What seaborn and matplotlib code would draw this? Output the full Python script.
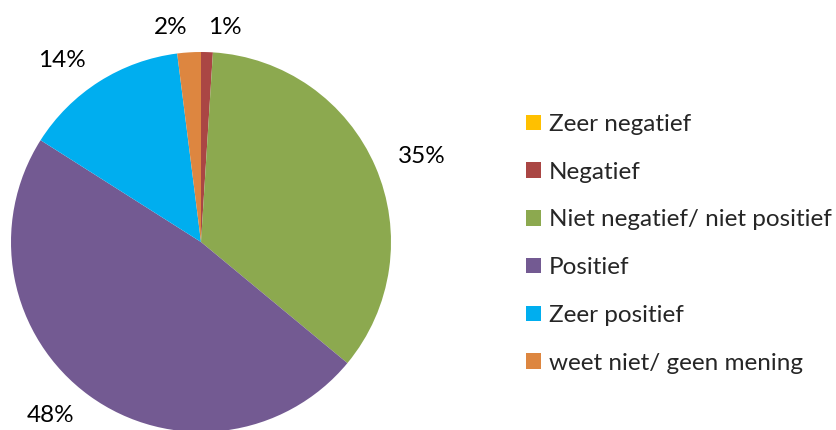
import matplotlib
matplotlib.use("Agg")
import matplotlib.pyplot as plt
import seaborn as sns

categories = ["Zeer negatief", "Negatief", "Niet negatief/ niet positief",
              "Positief", "Zeer positief", "weet niet/ geen mening"]
values = [0, 1, 35, 48, 14, 2]
colors = ["#FFC000", "#AA4644", "#8CA94F", "#735A92", "#00AEEF", "#DD8640"]

sns.set_theme(style="white")
plt.rcParams["font.family"] = ["Lato", "DejaVu Sans"]

W, H = 837, 430
FS = 17.5
fig = plt.figure(figsize=(W / 100, H / 100), dpi=100)
# pie axes: x 11..391 px, y(top) 52..432 px
ax = fig.add_axes([11 / W, (H - 432) / H, 380 / W, 380 / H])
labels = [f"{v}%" if v > 0 else "" for v in values]
wedges, texts = ax.pie(values, labels=labels, colors=colors, startangle=90,
                       counterclock=False, labeldistance=1.13,
                       wedgeprops=dict(linewidth=0),
                       textprops=dict(fontsize=FS, color="#000000"))
ax.set_xlim(-1, 1)
ax.set_ylim(-1, 1)
ax.axis("off")

fig.legend(wedges, categories, loc="upper left", bbox_to_anchor=(526 / W, 1 - 114 / H),
           frameon=False, fontsize=FS, handlelength=0.6, handleheight=0.6,
           handletextpad=0.35, labelspacing=1.1, borderaxespad=0, borderpad=0)

fig.savefig("out.png", dpi=100)
